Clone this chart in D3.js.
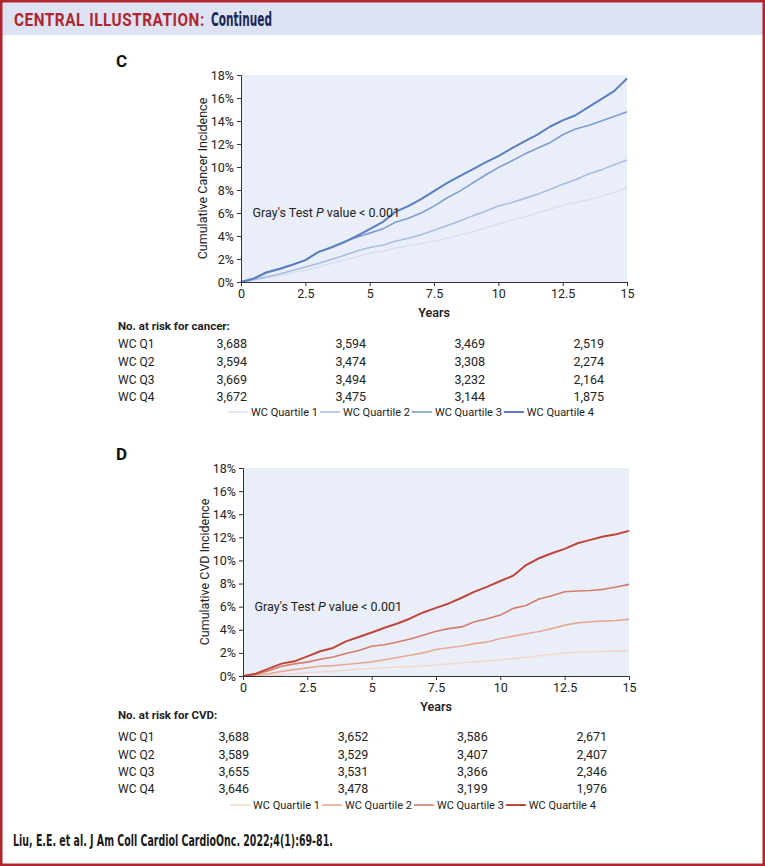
<!DOCTYPE html>
<html><head><meta charset="utf-8">
<script src="https://cdn.jsdelivr.net/npm/d3@7"></script>
<style>
html,body{margin:0;padding:0;background:#fff;}
svg{display:block;font-family:Roboto,"Noto Sans",sans-serif;}
</style></head>
<body><svg id="c" width="765" height="866"></svg>
<script>
// ---------- DATA ----------
const years = [0,0.5,1,1.5,2,2.5,3,3.5,4,4.5,5,5.5,6,6.5,7,7.5,8,8.5,9,9.5,10,10.5,11,11.5,12,12.5,13,13.5,14,14.5,15];
const cancerQ1 = [0,0.15,0.35,0.55,0.8,1.0,1.3,1.6,1.9,2.2,2.5,2.7,2.95,3.15,3.35,3.55,3.8,4.1,4.35,4.7,5.05,5.35,5.65,6.0,6.3,6.7,6.9,7.15,7.45,7.8,8.2];
const cancerQ2 = [0,0.2,0.45,0.7,1.0,1.3,1.6,1.95,2.3,2.7,3.0,3.2,3.55,3.8,4.1,4.5,4.9,5.3,5.75,6.15,6.6,6.9,7.25,7.6,8.05,8.5,8.9,9.4,9.75,10.2,10.6];
const cancerQ3 = [0,0.3,0.8,1.1,1.5,1.9,2.6,3.0,3.5,3.9,4.25,4.6,5.2,5.55,6.0,6.6,7.3,7.9,8.6,9.3,9.95,10.5,11.1,11.6,12.1,12.8,13.3,13.6,14.0,14.4,14.8];
const cancerQ4 = [0,0.3,0.85,1.15,1.5,1.9,2.6,3.0,3.45,4.0,4.6,5.2,6.1,6.6,7.2,7.9,8.6,9.2,9.8,10.4,10.95,11.6,12.2,12.8,13.5,14.05,14.5,15.2,15.9,16.6,17.7];
const cvdQ1 = [0,0.02,0.05,0.12,0.2,0.3,0.35,0.42,0.5,0.58,0.65,0.72,0.78,0.82,0.86,0.95,1.05,1.15,1.22,1.3,1.4,1.5,1.62,1.75,1.88,1.98,2.05,2.1,2.12,2.15,2.2];
const cvdQ2 = [0,0.08,0.2,0.4,0.55,0.7,0.85,0.9,1.0,1.1,1.22,1.4,1.6,1.8,2.0,2.29,2.45,2.6,2.8,2.95,3.24,3.45,3.65,3.85,4.1,4.4,4.6,4.7,4.75,4.8,4.9];
const cvdQ3 = [0,0.15,0.45,0.85,1.05,1.2,1.45,1.65,1.94,2.2,2.58,2.7,2.95,3.2,3.53,3.88,4.1,4.25,4.69,4.95,5.27,5.85,6.1,6.66,6.95,7.29,7.35,7.4,7.5,7.7,7.93];
const cvdQ4 = [0,0.2,0.64,1.07,1.27,1.7,2.14,2.43,3.0,3.38,3.76,4.17,4.54,4.98,5.5,5.9,6.28,6.77,7.3,7.73,8.22,8.68,9.6,10.19,10.62,11.0,11.49,11.78,12.07,12.27,12.56];
const xTicks = [0,2.5,5,7.5,10,12.5,15];
const yTicks = [0,2,4,6,8,10,12,14,16,18];
const riskTimes = [0,5,10,15];
const riskRowLabels = ["WC Q1","WC Q2","WC Q3","WC Q4"];
const cancerRisk = [[3688,3594,3469,2519],[3594,3474,3308,2274],[3669,3494,3232,2164],[3672,3475,3144,1875]];
const cvdRisk = [[3688,3652,3586,2671],[3589,3529,3407,2407],[3655,3531,3366,2346],[3646,3478,3199,1976]];
const legendLabels = ["WC Quartile 1","WC Quartile 2","WC Quartile 3","WC Quartile 4"];

// ---------- DRAW ----------
const svg = d3.select("#c");
const RED = "#b1262e";

// text squeezed horizontally to a target width (via transform so bbox stays true)
function fitText(x, y, str, width, style){
  const t = svg.append("text").attr("x",0).attr("y",0).text(str);
  Object.entries(style).forEach(([k,v])=>t.style(k,v));
  const w = t.node().getComputedTextLength();
  t.attr("transform",`translate(${x},${y}) scale(${width/w},1)`);
  return t;
}

// header band
svg.append("rect").attr("x",0).attr("y",0).attr("width",765).attr("height",35).attr("fill","#dde3f3");
fitText(14,26,"CENTRAL ILLUSTRATION:",191,{"font-family":"Roboto,sans-serif","font-weight":"700","font-size":"17.5px","letter-spacing":"0.6px","fill":RED});
fitText(211,26,"Continued",61,{"font-family":"'Liberation Sans Narrow','DejaVu Sans Condensed',Roboto,sans-serif","font-weight":"700","font-size":"19px","fill":"#1b2856"});

// footer
fitText(13,846,"Liu, E.E. et al. J Am Coll Cardiol CardioOnc. 2022;4(1):69-81.",320,{"font-family":"'Liberation Sans Narrow','DejaVu Sans Condensed',Roboto,sans-serif","font-weight":"700","font-size":"16.5px","fill":"#1a1a1a"});

function panel(o){
  const x = d3.scaleLinear().domain([0,15]).range([o.x0,o.x1]);
  const y = d3.scaleLinear().domain([0,18]).range([o.yb,o.yt]);
  const g = svg.append("g");
  g.append("text").attr("x",116).attr("y",o.letterY)
    .style("font-weight","700").style("font-size","17px").attr("fill","#111").text(o.letter);
  g.append("rect").attr("x",o.x0).attr("y",o.yt).attr("width",o.x1-o.x0).attr("height",o.yb-o.yt).attr("fill","#eaeef8");
  const line = d3.line().x((d,i)=>x(years[i])).y(d=>y(d)).curve(d3.curveLinear);
  o.series.forEach((s,i)=>{
    g.append("path").datum(s).attr("d",line).attr("fill","none")
     .attr("stroke",o.colors[i]).attr("stroke-width",i===3?2:1.6).attr("stroke-linejoin","round");
  });
  const ya = g.append("g").attr("transform",`translate(${o.x0},0)`)
    .call(d3.axisLeft(y).tickValues(yTicks).tickFormat(d=>d+"%").tickSize(4).tickPadding(3));
  const xa = g.append("g").attr("transform",`translate(0,${o.yb})`)
    .call(d3.axisBottom(x).tickValues(xTicks).tickFormat(d=>d).tickSize(4).tickPadding(3));
  [ya,xa].forEach(a=>{
    a.selectAll("path,line").attr("stroke","#333");
    a.selectAll("text").style("font-size","12.5px").attr("fill","#222").style("font-family","Roboto,sans-serif");
  });
  g.append("text").attr("transform",`translate(${o.x0-39},${(o.yt+o.yb)/2}) rotate(-90)`)
    .attr("text-anchor","middle").attr("dominant-baseline","central")
    .style("font-size","12.5px").attr("fill","#222").text(o.ylabel);
  g.append("text").attr("x",(o.x0+o.x1)/2).attr("y",o.yb+35).attr("text-anchor","middle")
    .style("font-size","12.5px").style("font-weight","600").attr("fill","#222").text("Years");
  g.append("text").attr("x",x(0.45)).attr("y",y(6)+4)
    .style("font-size","12.5px").attr("fill","#222")
    .call(t=>{t.append("tspan").text("Gray's Test ");t.append("tspan").style("font-style","italic").text("P");t.append("tspan").text(" value < 0.001");});
  // risk table
  const cx = d3.scaleLinear().domain([0,15]).range(o.colRange);
  g.append("text").attr("x",118).attr("y",o.tableY).style("font-size","11.5px").style("font-weight","700")
    .attr("fill","#222").text(o.tableTitle);
  riskRowLabels.forEach((lab,r)=>{
    const ry = o.rowY[r];
    g.append("text").attr("x",118).attr("y",ry).style("font-size","12px").attr("fill","#222").text(lab);
    o.risk[r].forEach((v,c)=>{
      g.append("text").attr("x",cx(riskTimes[c])).attr("y",ry).attr("text-anchor","end")
        .style("font-size","12.5px").attr("fill","#222").text(d3.format(",")(v));
    });
  });
  // legend
  let lx = o.legendX;
  legendLabels.forEach((lab,i)=>{
    g.append("line").attr("x1",lx).attr("x2",lx+20).attr("y1",o.legendY-4).attr("y2",o.legendY-4)
      .attr("stroke",o.colors[i]).attr("stroke-width",i===3?2:1.6);
    const t = g.append("text").attr("x",lx+23).attr("y",o.legendY).style("font-size","11px").attr("fill","#222").text(lab);
    lx += 23 + t.node().getComputedTextLength() + 2;
  });
}

panel({letter:"C",letterY:67,x0:241,x1:627,yt:75,yb:282,
  series:[cancerQ1,cancerQ2,cancerQ3,cancerQ4],
  colors:["#d8e0f1","#aabde3","#7e9dd2","#5a7ebf"],
  ylabel:"Cumulative Cancer Incidence",
  tableTitle:"No. at risk for cancer:",tableY:330,rowY:[348,366,384,401],
  risk:cancerRisk,colRange:[247,604],legendX:228,legendY:416});

panel({letter:"D",letterY:460,x0:243,x1:629,yt:468,yb:676,
  series:[cvdQ1,cvdQ2,cvdQ3,cvdQ4],
  colors:["#f2d8cc","#e6aa95","#d47d69","#c0453a"],
  ylabel:"Cumulative CVD Incidence",
  tableTitle:"No. at risk for CVD:",tableY:719,rowY:[741,759,776,793],
  risk:cvdRisk,colRange:[249,607],legendX:230,legendY:809});

// outer border
svg.append("rect").attr("x",1.25).attr("y",1.25).attr("width",762.5).attr("height",863.5)
  .attr("fill","none").attr("stroke",RED).attr("stroke-width",2.5);
</script></body></html>
